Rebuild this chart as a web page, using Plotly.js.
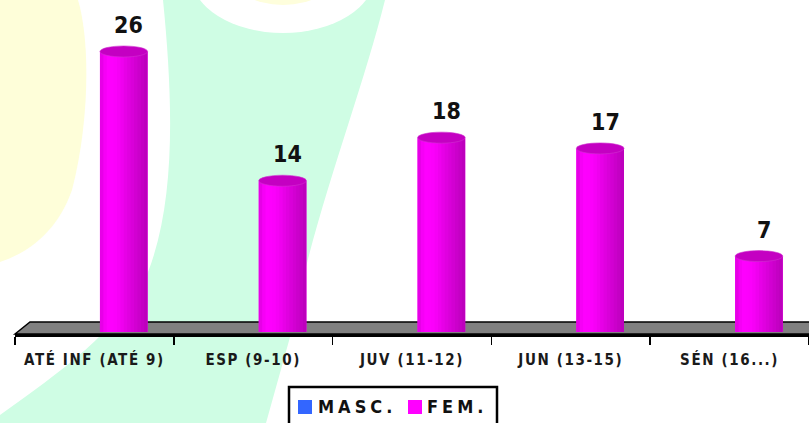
<!DOCTYPE html>
<html><head><meta charset="utf-8">
<script src="https://cdn.plot.ly/plotly-3.0.1.min.js"></script>
<style>
html,body{margin:0;padding:0;background:#fff;overflow:hidden}
#wrap{position:relative;width:809px;height:423px}
#bg{position:absolute;left:0;top:0}
#chart{position:absolute;left:0;top:0;width:809px;height:423px}
.xtick text{letter-spacing:1.6px}
</style></head><body>
<div id="wrap">
<svg id="bg" width="809" height="423" xmlns="http://www.w3.org/2000/svg">
  <path d="M0,0 L78,0 C90,40 90,120 72,190 C58,230 30,252 0,262 Z" fill="#fefed9"/>
  <path d="M163,0 L385,0 C360,100 312,220 292,330 L266,423 L0,423 L0,415 C60,372 118,332 148,272 C176,200 173,100 163,0 Z" fill="#cffde4"/>
  <ellipse cx="283" cy="-25" rx="92" ry="58" fill="#ffffff"/>
  <ellipse cx="283" cy="-30" rx="55" ry="35" fill="#fefedc"/>
</svg>
<div id="chart"></div></div>
<script>
// ---- data ----
const categories = ["ATÉ INF (ATÉ 9)", "ESP (9-10)", "JUV (11-12)", "JUN (13-15)", "SÉN (16...)"];
const mascValues = [0, 0, 0, 0, 0];
const femValues = [26, 14, 18, 17, 7];
const seriesNames = ["MASC.", "FEM."];
const seriesColors = ["#3366ff", "#ff00ff"];

// ---- style / geometry ----
const FONT = "'Liberation Sans Narrow', 'DejaVu Sans Condensed', 'Arial Narrow', sans-serif";
const BAR_OFF = 0.035, BAR_W = 0.30;
const PX_PER_UNIT = 10.77;
const PLOT_L = 15, PLOT_W = 794, PLOT_H = 334;
const N_SLICES = 14;
const px2x = px => (px - PLOT_L) / PLOT_W;
const px2y = py => (PLOT_H - py) / PLOT_H;

function lerp(a, b, t) { return Math.round(a + (b - a) * t); }
function sliceColor(t) {
  const stops = [[0, 224], [0.15, 255], [0.35, 250], [0.7, 215], [1, 186]];
  for (let i = 0; i < stops.length - 1; i++) {
    const [t0, c0] = stops[i], [t1, c1] = stops[i + 1];
    if (t >= t0 && t <= t1) {
      const c = lerp(c0, c1, (t - t0) / (t1 - t0));
      return `rgb(${c},0,${c})`;
    }
  }
  return 'rgb(186,0,186)';
}

const traces = [];
traces.push({
  type: 'bar', x: categories, y: mascValues, name: seriesNames[0], showlegend: false,
  marker: { color: seriesColors[0], line: { width: 0 } },
  offset: -BAR_OFF - BAR_W, width: BAR_W, hoverinfo: 'skip'
});
traces.push({
  type: 'bar', x: categories, y: femValues, name: seriesNames[1], showlegend: false,
  marker: { color: seriesColors[1], line: { width: 0 } },
  offset: BAR_OFF, width: BAR_W, hoverinfo: 'skip'
});
const sw = BAR_W / N_SLICES;
for (let k = 0; k < N_SLICES; k++) {
  traces.push({
    type: 'bar', x: categories, y: femValues, showlegend: false,
    marker: { color: sliceColor((k + 0.5) / N_SLICES), line: { width: 0 } },
    offset: BAR_OFF + k * sw, width: (k === N_SLICES - 1) ? sw : sw * 1.4,
    hoverinfo: 'skip'
  });
}

const shapes = [];
// floor
shapes.push({
  type: 'path', xref: 'paper', yref: 'paper', layer: 'below',
  path: `M 0 0 L ${px2x(30)} ${px2y(322)} L 1.02 ${px2y(322)} L 1.02 0 Z`,
  fillcolor: '#808080', line: { color: '#000', width: 1.5 }
});
// cylinder caps
femValues.forEach((v, i) => {
  shapes.push({
    type: 'circle', xref: 'x', yref: 'y', layer: 'above',
    x0: i + BAR_OFF, x1: i + BAR_OFF + BAR_W,
    ysizemode: 'pixel', yanchor: v, y0: -5, y1: 6,
    fillcolor: '#c400c2', line: { color: '#d030d0', width: 0.6 }
  });
});
// legend box + swatches
shapes.push({
  type: 'rect', xref: 'paper', yref: 'paper', layer: 'above',
  x0: px2x(289), x1: px2x(497), y0: px2y(432), y1: px2y(387),
  fillcolor: '#ffffff', line: { color: '#000', width: 2.5 }
});
const legendSwatchX = [298, 408];
const legendTextX = [316, 425];
seriesNames.forEach((n, i) => {
  shapes.push({
    type: 'rect', xref: 'paper', yref: 'paper', layer: 'above',
    x0: px2x(legendSwatchX[i]), x1: px2x(legendSwatchX[i] + 14),
    y0: px2y(414), y1: px2y(400),
    fillcolor: seriesColors[i], line: { width: 0 }
  });
});

const annotations = femValues.map((v, i) => ({
  x: i + BAR_OFF + BAR_W / 2, y: v, xref: 'x', yref: 'y',
  text: String(v), showarrow: false, yanchor: 'middle',
  yshift: 27, xshift: 5,
  font: { family: FONT, size: 23, weight: 'bold', color: '#111' }
}));
seriesNames.forEach((n, i) => {
  annotations.push({
    xref: 'paper', yref: 'paper', x: px2x(legendTextX[i]), y: px2y(407),
    xanchor: 'left', yanchor: 'middle', showarrow: false,
    text: `<span style="letter-spacing:4px">${n}</span>`,
    font: { family: FONT, size: 18, weight: 'bold', color: '#111' }
  });
});

const layout = {
  width: 809, height: 423,
  margin: { l: PLOT_L, r: 0, t: 0, b: 423 - PLOT_H, autoexpand: false },
  paper_bgcolor: 'rgba(0,0,0,0)', plot_bgcolor: 'rgba(0,0,0,0)',
  barmode: 'overlay',
  showlegend: false,
  xaxis: {
    type: 'category', range: [-0.5, 4.5], fixedrange: true,
    showline: true, linecolor: '#000', linewidth: 2.5,
    ticks: 'outside', tickson: 'boundaries', ticklen: 8, tickwidth: 1.5, tickcolor: '#000',
    ticklabelstandoff: 10,
    tickfont: { family: FONT, size: 15, weight: 'bold', color: '#1a1a1a' },
    showgrid: false, zeroline: false
  },
  yaxis: {
    visible: false, range: [-2 / PX_PER_UNIT, 332 / PX_PER_UNIT], fixedrange: true,
    showgrid: false, zeroline: false
  },
  shapes: shapes,
  annotations: annotations
};

Plotly.newPlot('chart', traces, layout, { displayModeBar: false, staticPlot: true });
</script>
</body></html>
